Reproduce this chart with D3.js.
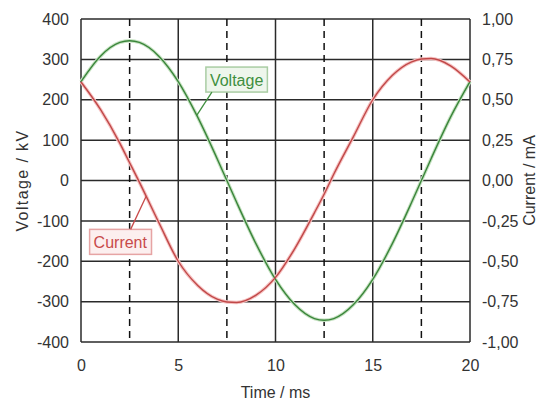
<!DOCTYPE html>
<html lang="en">
	<head>
		<meta charset="utf-8">
		<title>Voltage and current over time</title>
		<script type="text/javascript" src="https://cdn.jsdelivr.net/npm/d3@7"></script>
		<style type="text/css">
			body { margin: 0; background: #fff; }
			svg { display: block; font-family: "Liberation Sans", Arial, sans-serif; }
			.tick text { font-size: 16px; fill: #333; }
		</style>
	</head>
	<body>
		<script type="text/javascript">

			//Data
			var time    = [0, 1, 2, 2.5, 3, 4, 5, 6, 7, 7.5, 8, 9, 10, 11, 12, 12.5, 13, 14, 15, 16, 17, 17.5, 18, 19, 20];
			var voltage = [245, 308, 342, 346, 342, 308, 245, 157, 54, 0, -54, -157, -245, -308, -342, -346, -342, -308, -245, -157, -54, 0, 54, 157, 245];
			var current = [0.61, 0.44, 0.23, 0.11, -0.01, -0.26, -0.50, -0.65, -0.735, -0.752, -0.755, -0.71, -0.60, -0.42, -0.20, -0.085, 0.04, 0.27, 0.50, 0.65, 0.735, 0.752, 0.755, 0.71, 0.61];

			//Axis ticks and marker lines
			var timeTicks = [0, 5, 10, 15, 20];
			var markerTimes = [2.5, 7.5, 12.5, 17.5];
			var voltageTicks = [-400, -300, -200, -100, 0, 100, 200, 300, 400];
			var currentTicks = [-1, -0.75, -0.5, -0.25, 0, 0.25, 0.5, 0.75, 1];

			//Labels on the curves: box centre (time, value) and where the leader meets the curve
			var labelNames = ["Voltage", "Current"];
			var labelTimes = [8.0, 2.02];
			var labelValues = [250, -0.38];
			var leaderTimes = [5.95, 3.35];

			//Width, height and margins
			var w = 539;
			var h = 405;
			var margin = { top: 19, right: 69, bottom: 63, left: 81 };

			var svg = d3.select("body")
						.append("svg")
						.attr("width", w)
						.attr("height", h);

			var xScale = d3.scaleLinear()
							.domain([0, 20])
							.range([margin.left, w - margin.right]);

			var yV = d3.scaleLinear()
							.domain([-400, 400])
							.range([h - margin.bottom, margin.top]);

			var yI = d3.scaleLinear()
							.domain([-1, 1])
							.range([h - margin.bottom, margin.top]);

			//Decimal comma and plain hyphen minus
			var locale = d3.formatLocale({ decimal: ",", thousands: ".", grouping: [3], currency: ["", ""], minus: "-" });

			//Grid
			var grid = svg.append("g")
							.attr("stroke", "#2a2a2a")
							.attr("stroke-width", 1.5);

			grid.selectAll("line.h")
				.data(voltageTicks)
				.enter()
				.append("line")
				.attr("class", "h")
				.attr("x1", xScale(0))
				.attr("x2", xScale(20))
				.attr("y1", function(d) { return yV(d); })
				.attr("y2", function(d) { return yV(d); });

			grid.selectAll("line.v")
				.data(timeTicks)
				.enter()
				.append("line")
				.attr("class", "v")
				.attr("x1", function(d) { return xScale(d); })
				.attr("x2", function(d) { return xScale(d); })
				.attr("y1", yV(-400))
				.attr("y2", yV(400));

			grid.selectAll("line.m")
				.data(markerTimes)
				.enter()
				.append("line")
				.attr("class", "m")
				.attr("x1", function(d) { return xScale(d); })
				.attr("x2", function(d) { return xScale(d); })
				.attr("y1", yV(400))
				.attr("y2", yV(-400))
				.attr("stroke", "#111")
				.attr("stroke-dasharray", "7,5");

			//Axes
			svg.append("g")
				.attr("transform", "translate(" + margin.left + ",0)")
				.call(d3.axisLeft(yV).tickValues(voltageTicks).tickSize(0).tickPadding(12).tickFormat(locale.format("d")))
				.call(function(g) { g.select(".domain").remove(); });

			svg.append("g")
				.attr("transform", "translate(" + (w - margin.right) + ",0)")
				.call(d3.axisRight(yI).tickValues(currentTicks).tickSize(0).tickPadding(12).tickFormat(locale.format(".2f")))
				.call(function(g) { g.select(".domain").remove(); });

			svg.append("g")
				.attr("transform", "translate(0," + (h - margin.bottom) + ")")
				.call(d3.axisBottom(xScale).tickValues(timeTicks).tickSize(0).tickPadding(18))
				.call(function(g) { g.select(".domain").remove(); });

			//Axis titles
			svg.append("text")
				.attr("transform", "translate(28," + yV(0) + ") rotate(-90)")
				.attr("text-anchor", "middle")
				.attr("font-size", "16px")
				.attr("letter-spacing", "1.4px")
				.attr("fill", "#333")
				.text("Voltage / kV");

			svg.append("text")
				.attr("transform", "translate(535," + yV(0) + ") rotate(-90)")
				.attr("text-anchor", "middle")
				.attr("font-size", "16px")
				.attr("fill", "#333")
				.text("Current / mA");

			svg.append("text")
				.attr("x", xScale(10))
				.attr("y", 398)
				.attr("text-anchor", "middle")
				.attr("font-size", "16px")
				.attr("fill", "#333")
				.text("Time / ms");

			//Curves
			var vLine = d3.line()
							.x(function(d, i) { return xScale(time[i]); })
							.y(function(d) { return yV(d); })
							.curve(d3.curveMonotoneX);

			var iLine = d3.line()
							.x(function(d, i) { return xScale(time[i]); })
							.y(function(d) { return yI(d); })
							.curve(d3.curveMonotoneX);

			svg.append("path").attr("d", vLine(voltage)).attr("fill", "none").attr("stroke", "#c6e2c2").attr("stroke-width", 3.5);
			svg.append("path").attr("d", iLine(current)).attr("fill", "none").attr("stroke", "#f6c2c2").attr("stroke-width", 3.5);
			svg.append("path").attr("d", vLine(voltage)).attr("fill", "none").attr("stroke", "#3a853a").attr("stroke-width", 1.4);
			svg.append("path").attr("d", iLine(current)).attr("fill", "none").attr("stroke", "#c04848").attr("stroke-width", 1.4);

			//Labels with leaders
			var series = [voltage, current];
			var yScales = [yV, yI];
			var textColors = ["#3f8f3f", "#c84a4a"];
			var boxFills = ["#eef6ec", "#fcefef"];
			var boxStrokes = ["#aacda4", "#e6a4a4"];

			//Value of a series at time t, linear between read points
			function valueAt(values, t) {
				var j = d3.bisectRight(time, t);
				if (j <= 0) return values[0];
				if (j >= time.length) return values[values.length - 1];
				var f = (t - time[j - 1]) / (time[j] - time[j - 1]);
				return values[j - 1] + f * (values[j] - values[j - 1]);
			}

			labelNames.forEach(function(name, k) {
				var cx = xScale(labelTimes[k]);
				var cy = yScales[k](labelValues[k]);
				var g = svg.append("g");
				var box = g.append("rect");
				var txt = g.append("text")
							.attr("x", cx)
							.attr("y", cy + 6)
							.attr("text-anchor", "middle")
							.attr("font-size", "16px")
							.attr("fill", textColors[k])
							.text(name);
				var bb = txt.node().getBBox();
				var bx = bb.x - 4, by = cy - 12.5, bw = bb.width + 8, bh = 25;
				box.attr("x", bx).attr("y", by).attr("width", bw).attr("height", bh)
					.attr("fill", boxFills[k])
					.attr("stroke", boxStrokes[k])
					.attr("stroke-width", 1.5);

				var ex = xScale(leaderTimes[k]);
				var ey = yScales[k](valueAt(series[k], leaderTimes[k]));
				var sx, sy;
				if (k == 0) { sx = bx + 6; sy = by + bh; } else { sx = bx + 41; sy = by; }
				svg.append("line")
					.attr("x1", sx).attr("y1", sy)
					.attr("x2", ex).attr("y2", ey)
					.attr("stroke", textColors[k])
					.attr("stroke-width", 1.3);
			});

		</script>
	</body>
</html>
